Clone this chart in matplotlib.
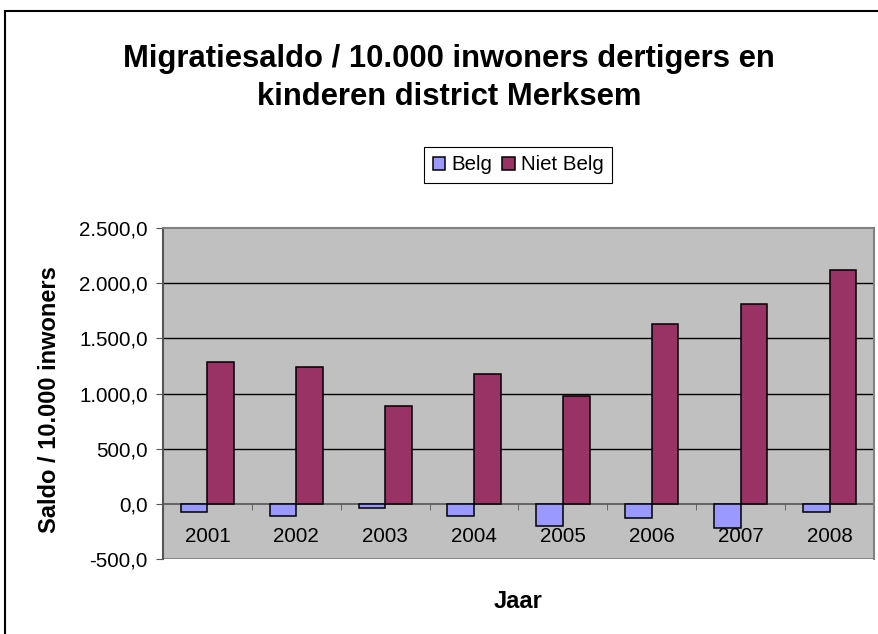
import numpy as np
import matplotlib
matplotlib.use("Agg")
import matplotlib.pyplot as plt
from matplotlib.ticker import FuncFormatter, FixedLocator
from matplotlib.lines import Line2D

plt.rcParams['font.family'] = ['Liberation Sans', 'DejaVu Sans']

# data
jaren = ['2001', '2002', '2003', '2004', '2005', '2006', '2007', '2008']
belg = [-75, -109, -39, -109, -200, -127, -218, -75]
niet_belg = [1288, 1236, 891, 1179, 979, 1633, 1813, 2122]

titel = 'Migratiesaldo / 10.000 inwoners dertigers en\nkinderen district Merksem'

kleur_belg = '#9999FF'
kleur_niet = '#993366'

fig = plt.figure(figsize=(8.79, 6.34), dpi=100)
ax = fig.add_axes([163/879, 1-559/634, 711/879, 331/634])
ax.set_facecolor('#C0C0C0')

x = np.arange(len(jaren))
w = 0.3
ax.bar(x - w/2, belg, w, color=kleur_belg, edgecolor='black', linewidth=1.1, label='Belg', zorder=3)
ax.bar(x + w/2, niet_belg, w, color=kleur_niet, edgecolor='black', linewidth=1.1, label='Niet Belg', zorder=3)

ax.set_xlim(-0.5, len(jaren) - 0.5)
ax.set_ylim(-500, 2500)
ax.set_yticks(np.arange(-500, 2501, 500))

def nl_fmt(v, pos):
    s = '{:,.1f}'.format(v)
    return s.replace(',', 'X').replace('.', ',').replace('X', '.')

ax.yaxis.set_major_formatter(FuncFormatter(nl_fmt))

# gridlines
for g in [500, 1000, 1500, 2000]:
    ax.axhline(g, color='black', linewidth=1, zorder=1)

# frame
for s in ['top', 'right', 'left']:
    ax.spines[s].set_color('#808080')
    ax.spines[s].set_linewidth(1.5)
ax.spines['left'].set_color('#555555')
ax.spines['bottom'].set_position(('data', 0))
ax.spines['bottom'].set_color('#555555')
ax.spines['bottom'].set_linewidth(1.2)
ax.spines['bottom'].set_zorder(2)
# bottom border of plot area
ax.axhline(-500, color='#808080', linewidth=2, zorder=1)

ax.set_xticks(x)
ax.set_xticklabels(jaren)
ax.xaxis.set_minor_locator(FixedLocator(np.arange(0.5, len(jaren) - 0.5, 1)))
ax.tick_params(axis='x', which='major', length=0, pad=17, labelsize=14.8)
ax.tick_params(axis='x', which='minor', length=4.5, color='#555555', direction='out')
ax.tick_params(axis='y', length=5, pad=6, labelsize=14.8, color='#555555')

# titles and labels
fig.text(449/879, 1-78/634, titel, ha='center', va='center', fontsize=22.3,
         fontweight='bold', linespacing=1.35)
fig.text(50/879, 1-400/634, 'Saldo / 10.000 inwoners', rotation=90, ha='center',
         va='center', fontsize=17, fontweight='bold')
fig.text(518/879, 1-602/634, 'Jaar', ha='center', va='center', fontsize=17,
         fontweight='bold')

leg = fig.legend(loc='center', bbox_to_anchor=(518/879, 1-165/634), ncol=2,
                 fontsize=14.8, fancybox=False, edgecolor='black', framealpha=1,
                 handlelength=0.6, handleheight=0.6, handletextpad=0.3,
                 columnspacing=0.5, borderpad=0.4)
leg.get_frame().set_linewidth(0.8)

# outer border of the chart (only top and left visible)
fig.add_artist(Line2D([5/879, 1], [1-11/634, 1-11/634], color='black', linewidth=1.5))
fig.add_artist(Line2D([5/879, 5/879], [0, 1-11/634], color='black', linewidth=1.5))

fig.savefig('out.png', dpi=100)
